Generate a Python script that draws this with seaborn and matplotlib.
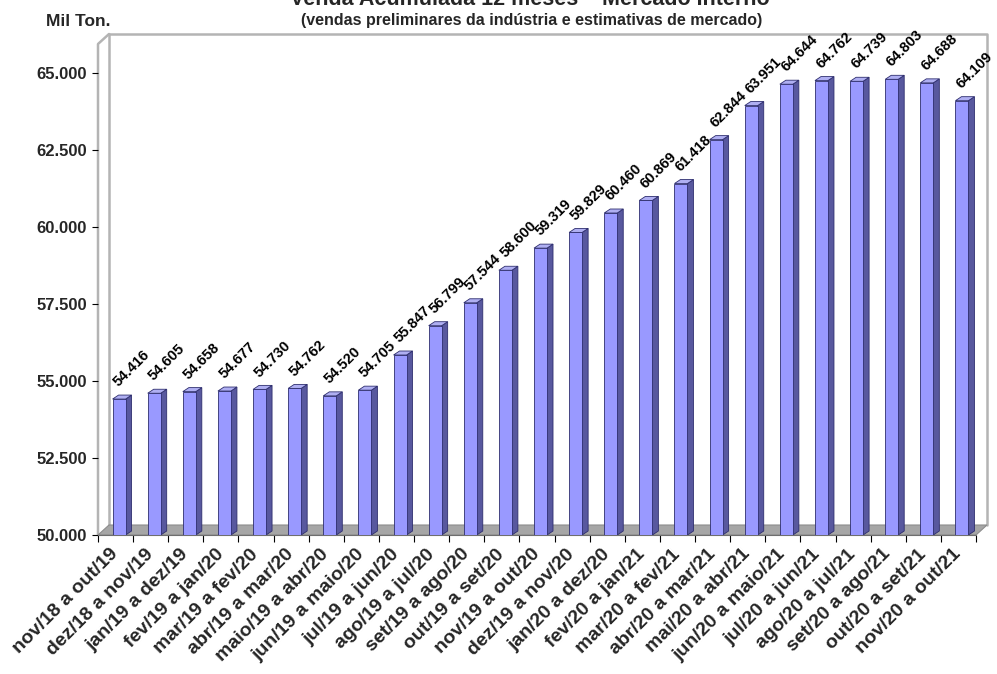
import matplotlib
matplotlib.use("Agg")
import matplotlib.pyplot as plt
from matplotlib.patches import Polygon
import numpy as np
import pandas as pd
import seaborn as sns

periodos = [
    "nov/18 a out/19", "dez/18 a nov/19", "jan/19 a dez/19", "fev/19 a jan/20",
    "mar/19 a fev/20", "abr/19 a mar/20", "maio/19 a abr/20", "jun/19 a maio/20",
    "jul/19 a jun/20", "ago/19 a jul/20", "set/19 a ago/20", "out/19 a set/20",
    "nov/19 a out/20", "dez/19 a nov/20", "jan/20 a dez/20", "fev/20 a jan/21",
    "mar/20 a fev/21", "abr/20 a mar/21", "mai/20 a abr/21", "jun/20 a maio/21",
    "jul/20 a jun/21", "ago/20 a jul/21", "set/20 a ago/21", "out/20 a set/21",
    "nov/20 a out/21",
]
vendas = [
    54416, 54605, 54658, 54677, 54730, 54762, 54520, 54705, 55847, 56799,
    57544, 58600, 59319, 59829, 60460, 60869, 61418, 62844, 63951, 64644,
    64762, 64739, 64803, 64688, 64109,
]
y_ticks = [50000, 52500, 55000, 57500, 60000, 62500, 65000]

titulo = "Venda Acumulada 12 meses – Mercado Interno"
subtitulo = "(vendas preliminares da indústria e estimativas de mercado)"
unidade = "Mil Ton."

df = pd.DataFrame({"periodo": periodos, "valor": vendas})

sns.set_theme(style="white")
plt.rcParams["font.family"] = ["Liberation Sans", "DejaVu Sans"]
plt.rcParams["font.weight"] = "bold"

W, H = 997, 674
fig = plt.figure(figsize=(W / 100, H / 100), dpi=100)
ax = fig.add_axes([98 / W, 1 - 535 / H, 878 / W, 491 / H])

Y0, Y1 = 50000, 65950
n = len(periodos)

# depth offsets (data units): walls and bars
px_x = n / 878.0
px_y = (Y1 - Y0) / 491.0
wdx, wdy = 11 * px_x, 10 * px_y
bdx, bdy = 6 * px_x, 4 * px_y

front = "#9999FF"
side = "#58589E"
top = "#AFAFF2"
edge = "#2E2E6E"

sns.barplot(data=df, x="periodo", y="valor", color=front, saturation=1,
            width=0.37, edgecolor=edge, linewidth=0.6, ax=ax, zorder=5)
ax.set_xlim(-0.5, n - 0.5)
ax.set_ylim(Y0, Y1)

# floor and walls
floor = Polygon([(-0.5, Y0), (n - 0.5, Y0), (n - 0.5 + wdx, Y0 + wdy),
                 (-0.5 + wdx, Y0 + wdy)], closed=True, facecolor="#A6A6A6",
                edgecolor="#8C8C8C", linewidth=0.8, zorder=1, clip_on=False)
ax.add_patch(floor)
wall_kw = dict(color="#B4B4B4", linewidth=1.8, clip_on=False, zorder=0.5)
ax.plot([-0.5 + wdx, n - 0.5 + wdx, n - 0.5 + wdx],
        [Y1 + wdy, Y1 + wdy, Y0 + wdy], **wall_kw)
ax.plot([-0.5 + wdx, -0.5 + wdx], [Y0 + wdy, Y1 + wdy], **wall_kw)
ax.plot([-0.5, -0.5, -0.5 + wdx], [Y0, Y1, Y1 + wdy], **wall_kw)
ax.plot([-0.5, n - 0.5], [Y0, Y0], color="#6E6E6E", linewidth=0.8,
        clip_on=False, zorder=2)

# bar depth faces and value labels
for patch, v in zip(ax.patches, df["valor"]):
    patch.set_x(patch.get_x() + 0.1)
    x0 = patch.get_x()
    x1 = x0 + patch.get_width()
    yt = patch.get_y() + patch.get_height()
    yb = Y0
    ax.add_patch(Polygon([(x1, yb), (x1 + bdx, yb + bdy), (x1 + bdx, yt + bdy), (x1, yt)],
                         closed=True, facecolor=side, edgecolor=edge, linewidth=0.6,
                         zorder=4.9))
    ax.add_patch(Polygon([(x0, yt), (x1, yt), (x1 + bdx, yt + bdy), (x0 + bdx, yt + bdy)],
                         closed=True, facecolor=top, edgecolor=edge, linewidth=0.6,
                         zorder=5.1))
    ax.annotate(f"{v:,.0f}".replace(",", "."), xy=(x0, yt), xytext=(6, 7),
                textcoords="offset points", rotation=45, rotation_mode="anchor",
                ha="left", va="bottom", fontsize=10.5, fontweight="bold",
                color="black", zorder=6, annotation_clip=False)

for s in ax.spines.values():
    s.set_visible(False)

ax.set_yticks(y_ticks)
ax.set_yticklabels([f"{t:,.0f}".replace(",", ".") for t in y_ticks],
                   fontsize=12, fontweight="bold")
ax.tick_params(axis="y", left=True, length=4, width=0.8, color="black", pad=4)

ax.set_xticks(np.arange(n))
ax.set_xticklabels(periodos, rotation=45, ha="right", rotation_mode="anchor",
                   fontsize=14, fontweight="bold")
ax.set_xticks(np.arange(n + 1) - 0.5, minor=True)
ax.tick_params(axis="x", which="major", length=0, pad=12)
ax.tick_params(axis="x", which="minor", bottom=True, length=5, width=0.8,
               color="black")
for lbl in ax.get_xticklabels():
    lbl.set_va("center")

ax.set_xlabel("")
ax.set_ylabel("")
ax.set_facecolor("white")

fig.text(530 / W, 1 - 5 / H, titulo, ha="center", va="baseline",
         fontsize=15.5, fontweight="bold")
fig.text(532 / W, 1 - 20 / H, subtitulo, ha="center", va="center",
         fontsize=11.5, fontweight="bold")
fig.text(78.5 / W, 1 - 21 / H, unidade, ha="center", va="center",
         fontsize=12.5, fontweight="bold")

fig.savefig("out.png", dpi=100, facecolor="white")
